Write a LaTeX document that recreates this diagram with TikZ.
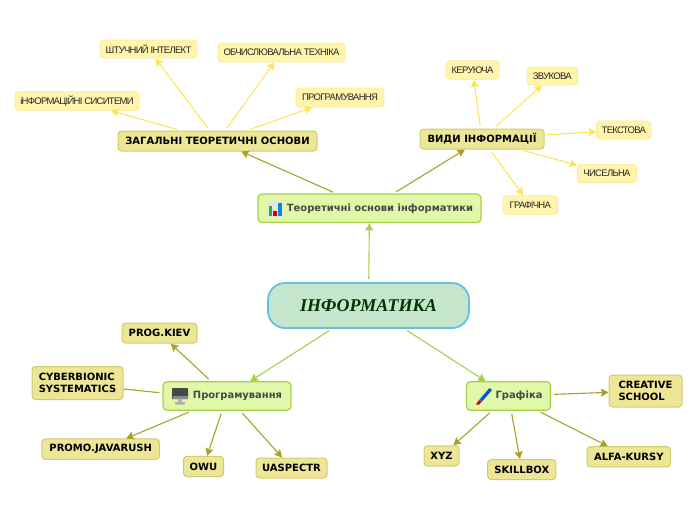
\documentclass[tikz,border=0pt]{standalone}
\usepackage{fontspec}
\setmainfont{DejaVu Sans}
\newfontfamily\leaffont[LetterSpace=-7.5]{Liberation Sans}
\newfontfamily\rootfont{Liberation Serif}
\usetikzlibrary{arrows.meta}
\definecolor{rootfill}{HTML}{C6E5CD}
\definecolor{rootline}{HTML}{62BFE8}
\definecolor{midfill}{HTML}{E0F8A8}
\definecolor{midline}{HTML}{A8CF48}
\definecolor{subfill}{HTML}{ECE696}
\definecolor{subline}{HTML}{CFCB72}
\definecolor{subedge}{HTML}{A9A225}
\definecolor{leaffill}{HTML}{FFF5AC}
\definecolor{leafline}{HTML}{FBEA96}
\definecolor{leafedge}{HTML}{FFE45A}
\tikzset{
 rootnode/.style={draw=rootline,fill=rootfill,line width=1.8pt,rounded corners=17pt,inner sep=0pt,text=black!80!green,font=\rootfont\bfseries\itshape\fontsize{18}{20}\selectfont},
 midnode/.style={draw=midline,fill=midfill,line width=1.2pt,rounded corners=4pt,inner sep=0pt,text=black!72,font=\bfseries\fontsize{9.95}{12}\selectfont},
 subnode/.style={draw=subline,fill=subfill,line width=1pt,rounded corners=3.5pt,inner sep=0pt,align=left,text=black,font=\bfseries\fontsize{10}{12}\selectfont},
 leafnode/.style={draw=leafline,fill=leaffill,line width=.8pt,rounded corners=3.5pt,inner sep=0pt,text=black!85,font=\leaffont\fontsize{9.5}{11}\selectfont},
 midedge/.style={draw=midline,line width=1.1pt,shorten <=3pt,-{Stealth[length=7.5pt,width=8pt,inset=1pt]}},
 subedge/.style={draw=subedge,line width=1.1pt,shorten <=3pt,-{Stealth[length=7.5pt,width=8pt,inset=1pt]}},
 leafedge/.style={draw=leafedge,line width=1.1pt,shorten <=3pt,-{Stealth[length=7.5pt,width=8pt,inset=1pt]}}
}
\begin{document}
\begin{tikzpicture}[x=1pt,y=-1pt]
\useasboundingbox (0,0) rectangle (696,520);
\node[rootnode,minimum width=201pt,minimum height=45pt] (root) at (368.5,305.5) {ІНФОРМАТИКА};
\node[midnode,minimum width=223pt,minimum height=28.5pt] (teor) at (369.5,208.3) {\hspace*{21pt}Теоретичні основи інформатики};
\node[midnode,minimum width=128pt,minimum height=28.5pt] (progr) at (227,396) {\hspace*{21pt}Програмування};
\node[midnode,minimum width=84pt,minimum height=28.5pt] (graph) at (508.5,396) {\hspace*{21pt}Графіка};
\node[subnode,minimum width=199pt,minimum height=20pt] (zag) at (217.5,141) {ЗАГАЛЬНІ ТЕОРЕТИЧНІ ОСНОВИ};
\node[subnode,minimum width=124pt,minimum height=20pt] (vid) at (482,139) {ВИДИ ІНФОРМАЦІЇ};
\node[leafnode,minimum width=97pt,minimum height=18pt] (shtuch) at (148.5,49) {ШТУЧНИЙ ІНТЕЛЕКТ};
\node[leafnode,minimum width=127pt,minimum height=19pt] (obch) at (281.5,52.5) {ОБЧИСЛЮВАЛЬНА ТЕХНІКА};
\node[leafnode,minimum width=124pt,minimum height=18.5pt] (inf) at (77,101) {іНФОРМАЦІЙНІ СИСИТЕМИ};
\node[leafnode,minimum width=88pt,minimum height=19pt] (prog) at (340,97.5) {ПРОГРАМУВАННЯ};
\node[leafnode,minimum width=53pt,minimum height=18.5pt] (ker) at (472.5,70) {КЕРУЮЧА};
\node[leafnode,minimum width=50.6pt,minimum height=18pt] (zvuk) at (552.3,76) {ЗВУКОВА};
\node[leafnode,minimum width=54.4pt,minimum height=18pt] (tekst) at (623.8,130) {ТЕКСТОВА};
\node[leafnode,minimum width=59pt,minimum height=18.5pt] (chis) at (607,173.5) {ЧИСЕЛЬНА};
\node[leafnode,minimum width=54.5pt,minimum height=18.5pt] (graf) at (530.3,205) {ГРАФІЧНА};
\node[subnode,minimum width=75pt,minimum height=20pt] (kiev) at (159.5,333.2) {PROG.KIEV};
\node[subnode,minimum width=91pt,minimum height=33pt] (cyber) at (77.5,383) {CYBERBIONIC\\SYSTEMATICS};
\node[subnode,minimum width=117.5pt,minimum height=20.5pt] (promo) at (100.7,449.2) {PROMO.JAVARUSH};
\node[subnode,minimum width=40pt,minimum height=20.4pt] (owu) at (203.5,466.5) {OWU};
\node[subnode,minimum width=71pt,minimum height=20pt] (uasp) at (291.5,468) {UASPECTR};
\node[subnode,minimum width=73pt,minimum height=32pt] (creat) at (645.5,391) {CREATIVE\\SCHOOL};
\node[subnode,minimum width=35pt,minimum height=20.3pt] (xyz) at (441.5,456) {XYZ};
\node[subnode,minimum width=68.3pt,minimum height=20pt] (skill) at (521.8,469.5) {SKILLBOX};
\node[subnode,minimum width=83.5pt,minimum height=20.3pt] (alfa) at (628.8,456.8) {ALFA-KURSY};
% connectors
\draw[midedge] (root) -- (teor);
\draw[midedge] (root) -- (progr);
\draw[midedge] (root) -- (graph);
\draw[subedge] (teor) -- (zag);
\draw[subedge] (teor) -- (vid);
\draw[leafedge] (zag) -- (shtuch);
\draw[leafedge] (zag) -- (obch);
\draw[leafedge] (zag) -- (inf);
\draw[leafedge] (zag) -- (prog);
\draw[leafedge] (vid) -- (ker);
\draw[leafedge] (vid) -- (zvuk);
\draw[leafedge] (vid) -- (tekst);
\draw[leafedge] (vid) -- (chis);
\draw[leafedge] (vid) -- (graf);
\draw[subedge] (progr) -- (kiev);
\draw[subedge,-,shorten <=0pt] ([xshift=-3pt,yshift=3.3pt]progr.west) -- ([yshift=-6pt]cyber.east);
\draw[subedge] (progr) -- (promo);
\draw[subedge] (progr) -- (owu);
\draw[subedge] (progr) -- (uasp);
\draw[subedge] (graph) -- (creat);
\draw[subedge] (graph) -- (xyz);
\draw[subedge] (graph) -- (skill);
\draw[subedge] (graph) -- (alfa);
% chart icon
\fill[black!10,rounded corners=1pt] (267,201) rectangle (283,217);
\fill[green!60!black!80] (268.5,206) rectangle (272,216);
\fill[red!85!black] (273,211) rectangle (276.5,216);
\fill[cyan!70!blue] (277.5,203) rectangle (281.5,216);
% monitor icon
\fill[black!72,rounded corners=.8pt] (172,388) rectangle (188,399);
\fill[black!45] (172.5,396) rectangle (187.5,399);
\fill[black!30] (178,399) rectangle (182,402);
\fill[black!30,rounded corners=.6pt] (175,402) rectangle (185,404.5);
% brush icon
\fill[blue!60!cyan!85!black] (489.5,388) -- (492,390) -- (482.5,401) -- (480,399) -- cycle;
\fill[brown!70!black] (480,399) -- (482.5,401) -- (481,402.5) -- (478.5,400.5) -- cycle;
\fill[red!80!black] (478.5,400.5) -- (481,402.5) -- (479,404.5) -- (476,404.5) -- cycle;
\end{tikzpicture}
\end{document}
